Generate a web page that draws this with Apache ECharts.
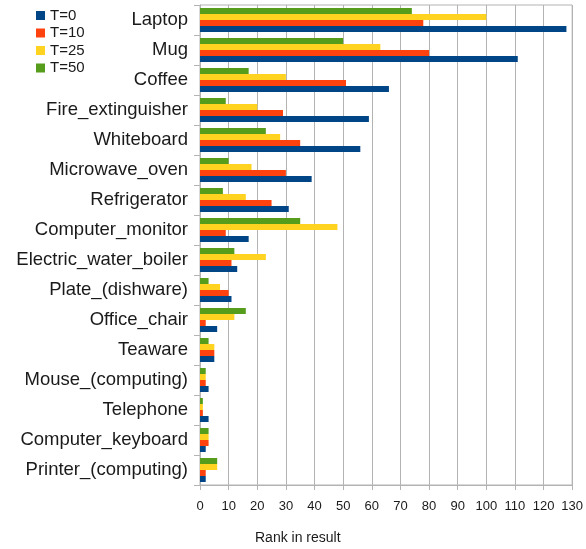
<!DOCTYPE html>
<html><head><meta charset="utf-8">
<script src="https://cdn.jsdelivr.net/npm/echarts@6/dist/echarts.min.js"></script>
<style>html,body{margin:0;padding:0;background:#fff}#c{width:586px;height:549px}</style>
</head><body><div id="c"></div>
<script>
const categories = ["Laptop","Mug","Coffee","Fire_extinguisher","Whiteboard","Microwave_oven","Refrigerator","Computer_monitor","Electric_water_boiler","Plate_(dishware)","Office_chair","Teaware","Mouse_(computing)","Telephone","Computer_keyboard","Printer_(computing)"];
const t0  = [128,111,66,59,56,39,31,17,13,11,6,5,3,3,2,2];
const t10 = [78,80,51,29,35,30,25,9,11,10,2,5,2,1,3,2];
const t25 = [100,63,30,20,28,18,16,48,23,7,12,5,2,1,3,6];
const t50 = [74,50,17,9,23,10,8,35,12,3,16,3,2,1,3,6];
const xTicks = [0,10,20,30,40,50,60,70,80,90,100,110,120,130];

const font = 'Liberation Sans, Arial, sans-serif';
const chart = echarts.init(document.getElementById('c'));
function s(name, data, color){
  return {name, type:'bar', data, barGap:'0%', barCategoryGap:'20%',
    itemStyle:{color}, animation:false};
}
chart.setOption({
  animation:false,
  legend:{
    data:['T=0','T=10','T=25','T=50'], orient:'vertical', left:31, top:3,
    itemWidth:9, itemHeight:9, itemGap:2.5, icon:'rect',
    textStyle:{fontFamily:font, fontSize:15, color:'#1a1a1a', padding:[0,0,0,0]}
  },
  grid:{left:200, right:12, top:5, bottom:64, containLabel:false, show:true, borderColor:'#b3b3b3', borderWidth:1},
  xAxis:{type:'value', min:0, max:130, interval:10,
    axisLine:{show:true, lineStyle:{color:'#b3b3b3'}},
    axisTick:{show:true, length:5, lineStyle:{color:'#b3b3b3'}},
    splitLine:{show:true, lineStyle:{color:'#b3b3b3'}},
    axisLabel:{fontFamily:font, fontSize:13, color:'#1a1a1a', margin:15,
      formatter:v=>xTicks.includes(v)?String(v):''}
  },
  yAxis:{type:'category', data:categories, inverse:true,
    axisLine:{show:true, lineStyle:{color:'#b3b3b3'}},
    axisTick:{show:true, length:6, lineStyle:{color:'#b3b3b3'}},
    axisLabel:{fontFamily:font, fontSize:18.5, color:'#1a1a1a', margin:12}
  },
  graphic:[{type:'text', left:255, top:531, style:{text:'Rank in result', font:'14px '+font, fill:'#1a1a1a'}}],
  series:[s('T=50',t50,'#579d1c'), s('T=25',t25,'#ffd320'), s('T=10',t10,'#ff420e'), s('T=0',t0,'#004586')]
});
</script></body></html>
